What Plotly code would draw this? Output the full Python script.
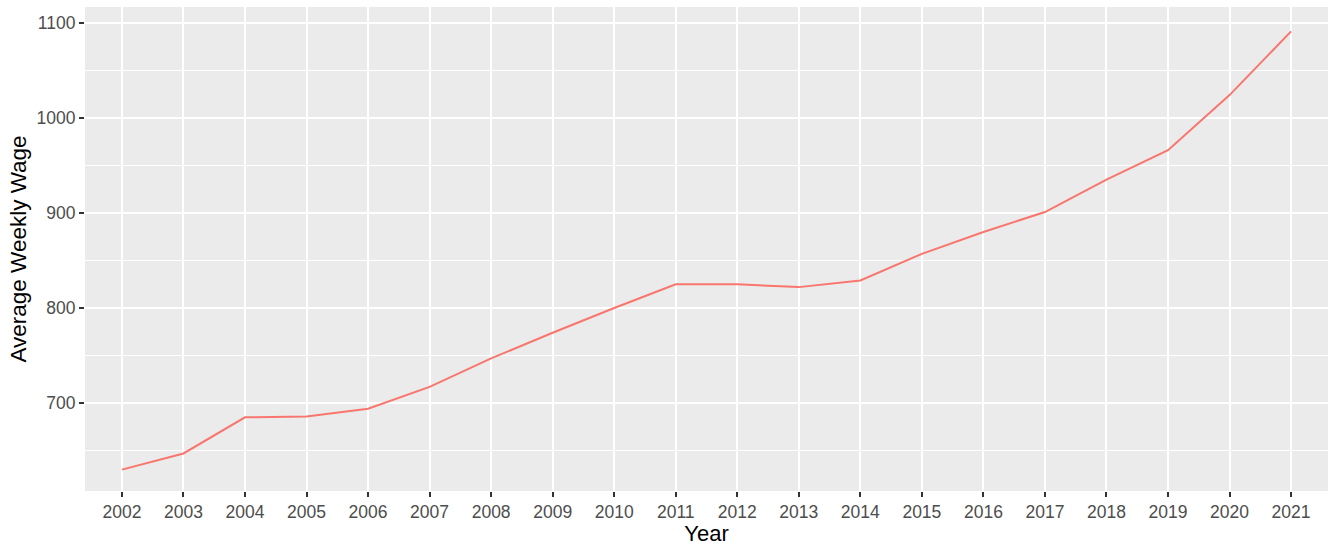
import plotly.graph_objects as go

years = [str(y) for y in range(2002, 2022)]
wages = [630, 647, 685, 686, 694, 717, 747, 774, 800, 825,
         825, 822, 829, 857, 880, 901, 935, 966, 1024, 1091]
y_ticks = [700, 800, 900, 1000, 1100]

FONT = "Liberation Sans, Arial, sans-serif"

fig = go.Figure()
fig.add_trace(go.Scatter(
    x=years, y=wages, mode="lines",
    line=dict(color="#F8766D", width=2),
    showlegend=False,
))

fig.update_layout(
    width=1330, height=546,
    margin=dict(l=85, r=2, t=7, b=55),
    paper_bgcolor="white",
    plot_bgcolor="#EBEBEB",
    font=dict(family=FONT),
    showlegend=False,
)
fig.update_xaxes(
    type="category",
    range=[-0.6, len(years) - 0.4],
    showgrid=True, gridcolor="white", gridwidth=2,
    ticks="outside", ticklen=5, tickwidth=1.5, tickcolor="#333333",
    tickfont=dict(size=17.5, color="#4D4D4D", family=FONT),
    title=dict(text="Year", font=dict(size=22, color="black", family=FONT), standoff=4),
    zeroline=False, showline=False, automargin=False,
)
fig.update_yaxes(
    range=[607.5, 1116.7],
    tickvals=y_ticks,
    showgrid=True, gridcolor="white", gridwidth=2,
    minor=dict(dtick=50, tick0=0, showgrid=True, gridcolor="white", gridwidth=1, ticks=""),
    ticks="outside", ticklen=5, tickwidth=1.5, tickcolor="#333333",
    tickfont=dict(size=17.5, color="#4D4D4D", family=FONT),
    title=dict(text="Average Weekly Wage", font=dict(size=22.5, color="black", family=FONT), standoff=3),
    zeroline=False, showline=False, automargin=False,
)

fig.write_html(
    "out.html",
    config={"displayModeBar": False},
    post_script="document.body.style.margin='0';document.body.style.overflow='hidden';",
)
